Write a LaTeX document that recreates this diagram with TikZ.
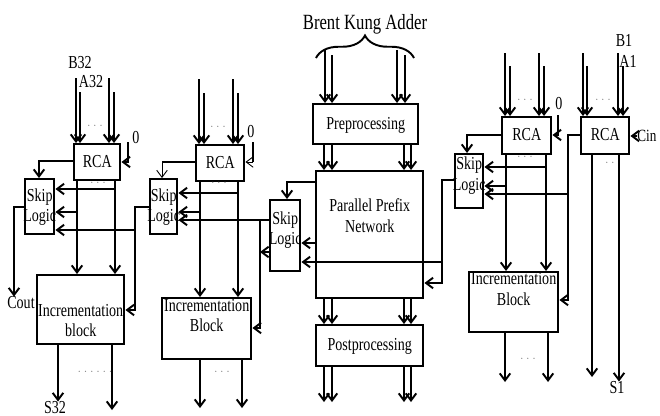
\documentclass[tikz,border=0pt]{standalone}
\usepackage{fontspec}
\setmainfont{Liberation Serif}
\usetikzlibrary{arrows.meta,decorations.pathreplacing}

% stretched text, as in the scanned figure
\newcommand{\st}[1]{\scalebox{1}[1.3]{#1}}
\newcommand{\tl}[2][0pt]{\raisebox{\dimexpr #1-3pt\relax}[0pt][0pt]{\makebox[0pt]{\st{\begin{tabular}{@{}c@{}}#2\end{tabular}}}}}

\tikzset{
  blk/.style={draw, line width=1.4pt, inner sep=0pt, anchor=north west, font=\fontsize{8}{9}\selectfont},
  wire/.style={line width=1.1pt},
  arr/.style={wire, -{Straight Barb[length=4pt,width=6pt]}},
  thinarr/.style={line width=0.5pt, -{Straight Barb[length=4pt,width=6pt]}},
  lbl/.style={inner sep=0pt, font=\fontsize{8}{9}\selectfont},
  dotl/.style={inner sep=0pt, text=gray, font=\fontsize{6}{7}\selectfont},
}

\begin{document}
\begin{tikzpicture}[x=0.02cm, y=-0.02cm]
\useasboundingbox (0,0) rectangle (660,416);

% title
\node[lbl, font=\fontsize{9.5}{11}\selectfont, anchor=base] (title) at (365,29) {\st{Brent Kung Adder}};
\draw[wire, decorate, decoration={brace, amplitude=0.45cm}] (316,58) -- (414,58);

% boxes
\node[blk, minimum width=0.92cm, minimum height=0.72cm] (rcaA) at (73,143) {\tl{RCA}};
\node[blk, minimum width=0.58cm, minimum height=1.10cm] (skipA) at (24,178) {\tl{Skip\\Logic}};
\node[blk, minimum width=1.74cm, minimum height=1.38cm] (incA) at (36,274) {\tl[-6.8pt]{Incrementation\\block}};
\node[blk, minimum width=0.96cm, minimum height=0.72cm] (rcaB) at (195,144) {\tl{RCA}};
\node[blk, minimum width=0.54cm, minimum height=1.10cm] (skipB) at (149,178) {\tl{Skip\\Logic}};
\node[blk, minimum width=1.78cm, minimum height=1.22cm] (incB) at (161,297) {\tl[6.8pt]{Incrementation\\Block}};
\node[blk, minimum width=2.10cm, minimum height=0.80cm] (pre) at (312,103) {\tl{Preprocessing}};
\node[blk, minimum width=2.14cm, minimum height=2.54cm] (ppn) at (315,170) {\tl[10pt]{Parallel Prefix\\Network}};
\node[blk, minimum width=2.14cm, minimum height=0.82cm] (post) at (315,324) {\tl{Postprocessing}};
\node[blk, minimum width=0.60cm, minimum height=1.42cm] (skipC) at (269,199) {\tl[3.4pt]{Skip\\Logic}};
\node[blk, minimum width=0.98cm, minimum height=0.74cm] (rcaD) at (501,116) {\tl{RCA}};
\node[blk, minimum width=0.56cm, minimum height=1.08cm] (skipD) at (454,153) {\tl[3.4pt]{Skip\\Logic}};
\node[blk, minimum width=1.78cm, minimum height=1.20cm] (incD) at (468,271) {\tl[6.8pt]{Incrementation\\Block}};
\node[blk, minimum width=0.96cm, minimum height=0.74cm] (rcaE) at (580,116) {\tl{RCA}};

% labels
\node[lbl] (b32) at (80,63) {\st{B32}};
\node[lbl] (a32) at (91,82) {\st{A32}};
\node[lbl] (zA) at (136,138) {\st{0}};
\node[lbl] (zB) at (251,132) {\st{0}};
\node[lbl] (zD) at (559,104) {\st{0}};
\node[lbl] (b1) at (624,40) {\st{B1}};
\node[lbl] (a1) at (628,61) {\st{A1}};
\node[lbl, anchor=west, font=\fontsize{7.5}{9}\selectfont] (cin) at (637,136) {\st{Cin}};
\node[lbl] (cout) at (21,303) {\st{Cout}};
\node[lbl] (s32) at (55,408) {\st{S32}};
\node[lbl] (s1) at (617,388) {\st{S1}};

\node[dotl] (dA1) at (95,126) {$\cdots$};
\node[dotl] (dA2) at (98,183) {$\cdots$};
\node[dotl] (dA3) at (95,372) {$\cdots\cdots$};
\node[dotl] (dB1) at (218,127) {$\cdots$};
\node[dotl] (dB2) at (219,183) {$\cdots$};
\node[dotl] (dB3) at (222,372) {$\cdots$};
\node[dotl] (dD1) at (525,100) {$\cdots$};
\node[dotl] (dD2) at (525,157) {$\cdots$};
\node[dotl] (dD3) at (528,359) {$\cdots$};
\node[dotl] (dE1) at (603,100) {$\cdots$};
\node[dotl] (dE2) at (613,163) {$\cdots$};

% block A (bits 32..)
\foreach \x/\y in {76/78,80/92,109/78,114/92} \draw[arr] (\x,\y) -- (\x,0 |- rcaA.north);
\draw[arr] (128,142) -- (128,162) -- (rcaA.east |- 0,162);
\draw[arr] (rcaA.west |- 0,161) -- (39,161) -- (39,0 |- skipA.north);
\foreach \x in {77,115} \draw[arr] (\x,0 |- rcaA.south) -- (\x,0 |- incA.north);
\draw[arr] (115,189) -- (skipA.east |- 0,189);
\draw[arr] (77,212) -- (skipA.east |- 0,212);
\draw[arr] (135,230) -- (skipA.east |- 0,230);
\draw[arr] (skipB.west |- 0,207) -- (135,207) -- (135,310) -- (incA.east |- 0,310);
\draw[arr] (skipA.west |- 0,207) -- (14,207) -- (14,0 |- cout.north);
\draw[arr] (58,0 |- incA.south) -- (58,0 |- s32.north);
\draw[arr] (112,0 |- incA.south) -- (112,410);

% block B
\foreach \x/\y in {199/79,204/93,233/79,238/93} \draw[arr] (\x,\y) -- (\x,0 |- rcaB.north);
\draw[wire] (253,142) -- (253,162);
\draw[thinarr] (253,162) -- (rcaB.east |- 0,162);
\draw[wire] (rcaB.west |- 0,162) -- (162,162);
\draw[thinarr] (162,162) -- (162,0 |- skipB.north);
\foreach \x in {200,238} \draw[arr] (\x,0 |- rcaB.south) -- (\x,0 |- incB.north);
\draw[arr] (238,193) -- (skipB.east |- 0,193);
\draw[arr] (200,212) -- (skipB.east |- 0,212);
\foreach \x in {200,242} \draw[arr] (\x,0 |- incB.south) -- (\x,408);

% Brent Kung part
\foreach \x/\y in {325/50,332/55,397/50,405/55} \draw[arr] (\x,\y) -- (\x,0 |- pre.north);
\foreach \x in {324,332,404,411} {
  \draw[arr] (\x,0 |- pre.south) -- (\x,0 |- ppn.north);
  \draw[arr] (\x,0 |- ppn.south) -- (\x,0 |- post.north);
  \draw[arr] (\x,0 |- post.south) -- (\x,402);
}
\draw[arr] (ppn.west |- 0,182) -- (287,182) -- (287,0 |- skipC.north);
\draw[arr] (ppn.west |- 0,243) -- (skipC.east |- 0,243);
\draw[arr] (skipD.west |- 0,180) -- (442,180) -- (442,283) -- (ppn.east |- 0,283);
\draw[arr] (442,262) -- (skipC.east |- 0,262);
\draw[arr] (skipC.west |- 0,220) -- (skipB.east |- 0,220);
\draw[arr] (260,220) -- (260,328) -- (incB.east |- 0,328);
\draw[arr] (skipC.west |- 0,252) -- (260,252);

% block D and block E (bits ..1)
\foreach \x/\y in {505/53,510/66,539/53,544/66} \draw[arr] (\x,\y) -- (\x,0 |- rcaD.north);
\foreach \x/\y in {583/53,587/66,618/53,623/66} \draw[arr] (\x,\y) -- (\x,0 |- rcaE.north);
\draw[arr] (558,115) -- (558,135) -- (rcaD.east |- 0,135);
\draw[arr] (rcaD.west |- 0,135) -- (467,135) -- (467,0 |- skipD.north);
\foreach \x in {506,546} \draw[arr] (\x,0 |- rcaD.south) -- (\x,0 |- incD.north);
\draw[arr] (546,167) -- (skipD.east |- 0,167);
\draw[arr] (506,186) -- (skipD.east |- 0,186);
\draw[arr] (568,194) -- (skipD.east |- 0,194);
\draw[arr] (rcaE.west |- 0,135) -- (568,135) -- (568,300) -- (incD.east |- 0,300);
\draw[arr] (cin.west) -- (rcaE.east |- cin.west);
\draw[arr] (592,0 |- rcaE.south) -- (592,377);
\draw[arr] (619,0 |- rcaE.south) -- (619,0 |- s1.north);
\foreach \x in {505,548} \draw[arr] (\x,0 |- incD.south) -- (\x,382);
\end{tikzpicture}
\end{document}
